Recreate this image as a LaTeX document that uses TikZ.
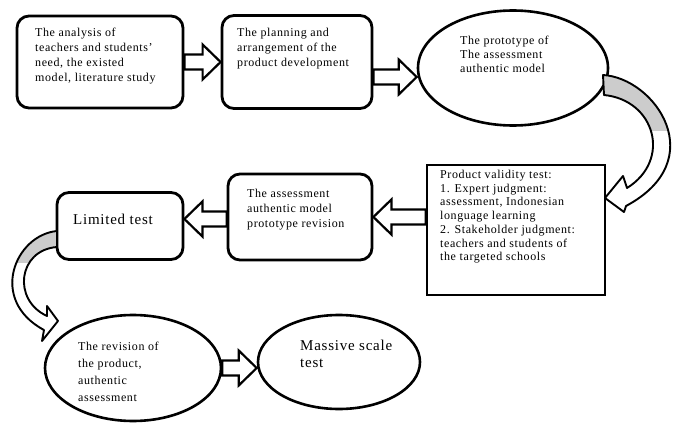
\documentclass[tikz,border=0pt]{standalone}
\usepackage{fontspec}
\setmainfont{Liberation Serif}[LetterSpace=5]
\usetikzlibrary{calc,shapes.geometric}

\tikzset{
  roundbox/.style={draw, line width=2.8pt, rounded corners=12pt, fill=white, inner sep=0pt},
  plainbox/.style={draw, line width=2.6pt, fill=white, inner sep=0pt},
  ovalbox/.style={draw, ellipse, line width=2.6pt, fill=white, inner sep=0pt},
  txt/.style={anchor=north west, align=left, inner sep=0pt, font=\fontsize{12}{15}\selectfont},
  bigtxt/.style={txt, font=\fontsize{15}{17}\selectfont},
  blockarr/.style={draw, line width=2.2pt, fill=white, line join=miter},
  bentarr/.style={line width=1.9pt, line join=round},
}

% straight block arrow: #1 tail, #2 tip, #3 signed head length
\newcommand{\blockarrow}[3]{%
  \draw[blockarr] let \p1=(#1), \p2=(#2) in
    (\x1,{\y2+7.5pt}) -- ({\x2-(#3)},{\y2+7.5pt}) -- ({\x2-(#3)},{\y2+17.5pt})
    -- (\x2,\y2) -- ({\x2-(#3)},{\y2-17.5pt}) -- ({\x2-(#3)},{\y2-7.5pt})
    -- (\x1,{\y2-7.5pt}) -- cycle;}

\begin{document}
\begin{tikzpicture}[x=1pt,y=-1pt]
\useasboundingbox (0,0) rectangle (673,423);

%Shapes
\node[roundbox, minimum width=166pt, minimum height=92pt] (need) at (100,62) {};
\node[roundbox, minimum width=150pt, minimum height=93pt] (plan) at (297,62) {};
\node[ovalbox, minimum width=190pt, minimum height=115pt] (proto) at (513,68) {};
\node[plainbox, minimum width=178pt, minimum height=130pt] (valid) at (516,230) {};
\node[roundbox, minimum width=144pt, minimum height=86pt] (revise) at (300,217) {};
\node[roundbox, minimum width=126pt, minimum height=67pt] (limited) at (120,226) {};
\node[ovalbox, minimum width=176pt, minimum height=106pt] (revprod) at (133,368) {};
\node[ovalbox, minimum width=162pt, minimum height=94pt] (massive) at (339,362) {};

%Straight block arrows
\blockarrow{need.east}{plan.west}{18pt}
\blockarrow{plan.east}{[yshift=-9pt]proto.west}{18pt}
\blockarrow{valid.west}{revise.east}{-18pt}
\blockarrow{revise.west}{[yshift=7pt]limited.east}{-18pt}
\blockarrow{revprod.east}{[yshift=-6pt]massive.west}{18pt}

%Curved arrow: prototype -> validity test
\begin{scope}
\clip (590,60) rectangle (680,130);
\fill[gray!40] (603,75) .. controls (655,78) and (712,160) .. (626,206) -- (624,212) -- (605,198) -- (623,176) -- (627,188) .. controls (672,160) and (655,100) .. (604,95) -- cycle;
\end{scope}
\draw[bentarr] (603,75) .. controls (655,78) and (712,160) .. (626,206) -- (624,212) -- (605,198) -- (623,176) -- (627,188) .. controls (672,160) and (655,100) .. (604,95) -- cycle;

%Curved arrow: limited test -> revision
\begin{scope}
\clip (0,225) rectangle (60,262);
\fill[gray!40] (57,231) .. controls (15,235) and (-12,300) .. (44,330) -- (42,341) -- (58,321) -- (47,306) -- (47,316) .. controls (12,300) and (18,250) .. (57,247) -- cycle;
\end{scope}
\draw[bentarr] (57,231) .. controls (15,235) and (-12,300) .. (44,330) -- (42,341) -- (58,321) -- (47,306) -- (47,316) .. controls (12,300) and (18,250) .. (57,247) -- cycle;

% Text Nodes
\node[txt] (needtxt) at (35,28) {The analysis of\\teachers and students'\\need, the existed\\model, literature study};
\node[txt] (plantxt) at (237,28) {The planning and\\arrangement of the\\product development};
\node[txt, font=\fontsize{12}{14}\selectfont] (prototxt) at (460,36) {The prototype of\\The assessment\\authentic model};
\node[txt, font=\fontsize{12}{13.7}\selectfont] (validtxt) at (440,170) {Product validity test:\\1. Expert judgment:\\assessment, Indonesian\\longuage learning\\2. Stakeholder judgment:\\teachers and students of\\the targeted schools};
\node[txt] (revisetxt) at (247,189) {The assessment\\authentic model\\prototype revision};
\node[bigtxt] (limitedtxt) at (73,214) {Limited test};
\node[txt, font=\fontsize{12}{17}\selectfont] (revprodtxt) at (78,342) {The revision of\\the product,\\authentic\\assessment};
\node[bigtxt] (massivetxt) at (300,340) {Massive scale\\test};

\end{tikzpicture}
\end{document}
